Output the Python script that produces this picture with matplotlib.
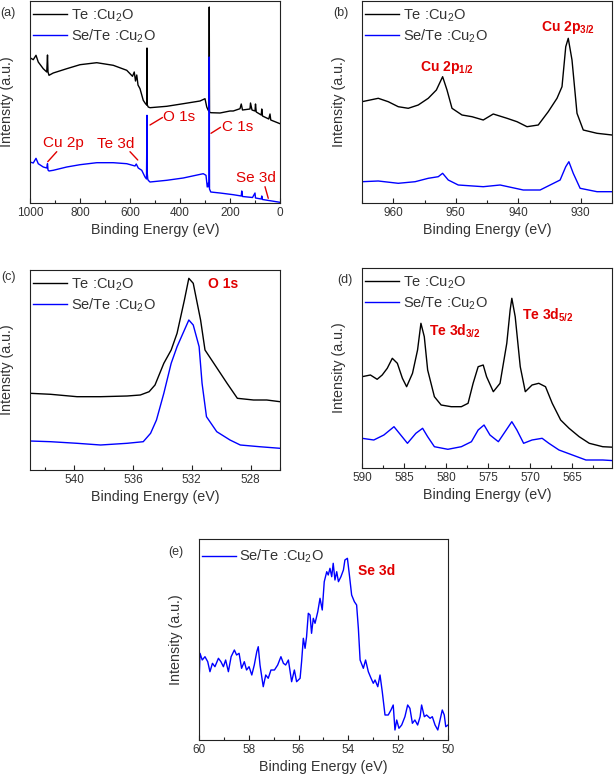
import matplotlib
matplotlib.use("Agg")
import matplotlib.pyplot as plt
from matplotlib.ticker import MultipleLocator

plt.rcParams['font.family'] = ['Liberation Sans', 'DejaVu Sans']
plt.rcParams['mathtext.fontset'] = 'custom'
plt.rcParams['mathtext.rm'] = 'Liberation Sans'
plt.rcParams['mathtext.it'] = 'Liberation Sans:italic'
plt.rcParams['mathtext.bf'] = 'Liberation Sans:bold'

# ---------------- data ----------------
series_labels = [r'Te :Cu$\mathregular{_2}$O', r'Se/Te :Cu$\mathregular{_2}$O']

# (a) survey
a_E_te = [1000, 987, 976, 967, 947, 933, 930, 928, 924, 907,
          853, 800, 733, 667, 613, 590, 583, 578, 573, 568,
          560, 547, 538, 533, 532, 531, 527, 520, 453, 387,
          320, 300, 293, 287, 284, 283, 282, 277, 240, 200,
          187, 160, 155, 150, 120, 118, 112, 100, 98, 95,
          75, 73, 70, 45, 40, 37, 0]
a_I_te = [145.3, 143.3, 147.7, 141, 134.3, 131, 148, 131, 127.7, 130,
          134.3, 138.3, 140.3, 137.7, 132.7, 126.7, 131, 122, 128, 118,
          114.3, 102.7, 99.3, 98, 155, 98, 96, 95.3, 96.7, 99.3,
          102, 104.3, 96, 92.7, 92, 196, 91, 90.3, 90, 92,
          92, 94.3, 99, 93, 94, 100, 93, 92, 99, 91,
          88, 94, 87, 84, 89, 83, 79.3]
a_E_se = [1000, 987, 976, 967, 947, 933, 930, 928, 924, 907,
          853, 800, 733, 667, 613, 590, 580, 575, 567, 553,
          540, 534, 532, 531, 529, 527, 520, 453, 387, 307,
          296, 291, 287, 284, 283, 282, 277, 240, 187, 155,
          153, 150, 110, 100, 98, 75, 73, 70, 0]
a_I_se = [41, 40, 44.7, 39.3, 36, 35, 39.3, 33, 32, 32.7,
          36, 38.3, 40.3, 40.3, 39.3, 37.7, 37, 39, 35, 32.7,
          26, 24, 87.7, 30, 24, 22.7, 21, 22.7, 25, 29.3,
          27.7, 16, 20, 16, 146, 14, 11, 10, 8.3, 7,
          12, 6.5, 5.5, 10, 5, 4, 7, 3.5, 0.7]

# (b) Cu 2p
b_E_te = [965, 962.4, 960.8, 959.2, 957.6, 956, 954.4, 953.1, 952.1, 951.4,
          950.6, 949, 947.4, 945.6, 944, 941.8, 940.2, 938.6, 936.8, 935.2,
          933.8, 933, 932.4, 932, 931.4, 930.6, 929.6, 927.4, 925]
b_I_te = [101.3, 104.7, 101.3, 96.3, 94.7, 98, 104.7, 113, 126.3, 113,
          94.7, 88, 86.3, 83, 89, 84.7, 81.3, 76.3, 78, 91.3,
          104.7, 116.3, 156.3, 164.7, 143, 89.7, 73, 69.7, 68]
b_E_se = [965, 962.4, 959.2, 956.5, 954.4, 952.8, 952.1, 951.2, 949.6, 945.6,
          942.9, 939.2, 936.5, 934.9, 933.3, 932.4, 931.9, 931.2, 930.1, 927.4, 925]
b_I_se = [21.3, 22, 19.7, 21.3, 24.7, 26.3, 29.7, 23, 18, 16.3,
          18, 13, 13, 18, 23, 36.3, 41.3, 29.7, 14.7, 11.3, 11.3]

# (c) O 1s
c_E_te = [543, 541.6, 539.8, 538.2, 536.4, 535.5, 534.9, 534.5, 533.9, 533.4,
          533, 532.5, 532.2, 531.9, 531.4, 531.1, 530.5, 529.6, 528.9, 527.8,
          526.9, 526]
c_I_te = [76.7, 75.7, 73.3, 73.3, 74, 75, 78.3, 85, 106.7, 120,
          136.7, 170, 191.7, 186.7, 150, 120, 106.7, 86.7, 71.7, 70,
          70, 68.3]
c_E_se = [543, 541.6, 539.8, 538.2, 536.4, 535.3, 534.8, 534.4, 533.9, 533.4,
          533, 532.4, 532.2, 531.9, 531.5, 531.3, 531, 530.3, 529.4, 528.7,
          527.4, 526]
c_I_se = [29, 28.3, 26.7, 25, 26.7, 28.3, 36.7, 50, 76.7, 106.7,
          123.3, 143.3, 150, 145, 123.3, 86.7, 53.3, 38.3, 30, 25,
          23.3, 21.7]

# (d) Te 3d
d_E_te = [590, 589.0, 588.2, 587.6, 587.0, 586.4, 585.8, 585.2, 584.7, 584.0,
          583.4, 583.0, 582.6, 582.2, 581.4, 580.6, 579.4, 578.2, 577.4, 576.8,
          576.2, 575.6, 575.2, 574.4, 573.6, 572.8, 572.4, 572.2, 571.8, 571.2,
          570.6, 569.8, 569.0, 568.2, 567.4, 566.4, 565.4, 564.2, 563.0, 561.4,
          560.0]
d_I_te = [91.3, 93, 88.7, 93, 99.7, 109.7, 104.7, 89.7, 81.3, 94.7,
          118, 144.7, 131.3, 98, 71.3, 63, 61.3, 61.3, 64.7, 84.7,
          101.3, 103, 91.3, 76.3, 84.7, 124.7, 158, 169.7, 151.3, 101.3,
          76.3, 83, 84.7, 81.3, 64.7, 48, 39.7, 31.3, 24.7, 21.3,
          20.7]
d_E_se = [590, 588.6, 587.4, 586.2, 585.4, 584.6, 583.6, 582.8, 582.2, 581.4,
          579.8, 578.2, 577.0, 576.2, 575.5, 574.8, 573.8, 573.0, 572.2, 571.6,
          570.8, 569.8, 568.6, 567.8, 566.6, 565.0, 563.4, 561.4, 560.0]
d_I_se = [29.7, 28, 33, 41.3, 33, 24.7, 34.7, 39.7, 31.3, 21.3,
          18.7, 21.3, 26.3, 38, 43, 33, 26.3, 36.3, 46.3, 38,
          24.7, 28, 29.7, 24.7, 18, 13, 8, 8, 7.3]

# (e) Se 3d
e_E_se = [60.00, 59.96, 59.87, 59.76, 59.65, 59.56, 59.46, 59.36, 59.22, 59.12,
          59.02, 58.93, 58.82, 58.71, 58.58, 58.49, 58.39, 58.29, 58.18, 58.09,
          57.99, 57.88, 57.78, 57.68, 57.62, 57.55, 57.42, 57.32, 57.22, 57.11,
          56.97, 56.84, 56.71, 56.61, 56.52, 56.41, 56.28, 56.17, 56.08, 55.94,
          55.88, 55.81, 55.74, 55.68, 55.61, 55.54, 55.48, 55.41, 55.34, 55.23,
          55.14, 55.05, 54.97, 54.87, 54.81, 54.74, 54.67, 54.61, 54.54, 54.47,
          54.40, 54.30, 54.20, 54.14, 54.04, 53.96, 53.87, 53.76, 53.67, 53.60,
          53.53, 53.40, 53.31, 53.20, 53.09, 53.00, 52.93, 52.82, 52.73, 52.64,
          52.53, 52.40, 52.29, 52.20, 52.13, 52.06, 51.97, 51.86, 51.73, 51.62,
          51.53, 51.43, 51.33, 51.22, 51.12, 51.06, 50.95, 50.86, 50.72, 50.63,
          50.52, 50.41, 50.32, 50.23, 50.15, 50.09, 50.00]
e_I_se = [55.0, 86.7, 80.0, 83.3, 78.3, 68.3, 76.7, 73.3, 81.7, 78.3,
          73.3, 80.0, 68.3, 83.3, 90.0, 85.0, 86.7, 71.7, 78.3, 70.0,
          73.3, 65.0, 75.0, 88.3, 93.3, 75.0, 53.3, 65.0, 61.7, 70.0,
          70.0, 75.0, 83.3, 76.7, 75.0, 80.0, 58.3, 70.0, 58.3, 61.7,
          78.3, 101.7, 91.7, 103.3, 126.7, 125.0, 106.7, 121.7, 116.7, 128.3,
          141.7, 130.0, 158.3, 168.3, 165.0, 171.7, 163.3, 176.7, 160.0, 168.3,
          158.3, 163.3, 170.0, 180.0, 181.7, 165.0, 145.0, 138.3, 135.0, 111.7,
          80.0, 71.7, 80.0, 68.3, 61.7, 56.7, 60.0, 53.3, 65.0, 48.3,
          25.0, 25.0, 30.0, 35.0, 10.0, 20.0, 11.7, 15.0, 23.3, 35.0,
          31.7, 16.7, 20.0, 15.0, 23.3, 35.0, 23.3, 25.0, 21.7, 23.3,
          15.0, 10.0, 20.0, 30.0, 25.0, 13.3, 15.0]

# ---------------- layout ----------------
W, H = 614, 775
BLACK = '#000000'
BLUE = '#0000ff'
RED = '#e00000'
GRAY = '#333333'
LW = 1.0
LEG_FS = 10.5

fig = plt.figure(figsize=(W / 100, H / 100), dpi=100)


def rect(l, t, r, b):
    return [l / W, 1 - b / H, (r - l) / W, (b - t) / H]


def ftext(x, y, s, **kw):
    fig.text(x / W, 1 - y / H, s, **kw)


def style(ax, xlim, ylim, major, minor):
    ax.set_xlim(*xlim)
    ax.set_ylim(*ylim)
    ax.xaxis.set_major_locator(MultipleLocator(major))
    ax.xaxis.set_minor_locator(MultipleLocator(minor))
    ax.tick_params(axis='x', which='both', direction='in', top=False,
                   labelsize=8.5, labelcolor=GRAY, pad=3, color='#222222')
    ax.tick_params(axis='x', which='major', length=3.5, width=0.8)
    ax.tick_params(axis='x', which='minor', length=2, width=0.8)
    ax.tick_params(axis='y', which='both', left=False, labelleft=False)
    for s in ax.spines.values():
        s.set_linewidth(0.8)
        s.set_color('#222222')


def legend(ax, width_px, pad=0.45, start_px=3.0):
    pad_px = pad * LEG_FS * 100 / 72
    ax.legend(loc='upper left',
              bbox_to_anchor=((start_px - pad_px) / width_px, 1.0),
              frameon=False, fontsize=LEG_FS, handlelength=2.35,
              handletextpad=0.25, labelspacing=0.22, borderaxespad=0.0,
              borderpad=pad)
    leg = ax.get_legend()
    for t in leg.get_texts():
        t.set_color(GRAY)


axes_px = {
    'a': (30, 1, 280, 203),
    'b': (362, 1, 612, 203),
    'c': (30, 270, 280, 470),
    'd': (362, 268, 612, 468),
    'e': (199, 539, 448, 740),
}

# (a)
ax = fig.add_axes(rect(*axes_px['a']))
ax.plot(a_E_te, a_I_te, color=BLACK, lw=LW, label=series_labels[0])
ax.plot(a_E_se, a_I_se, color=BLUE, lw=LW, label=series_labels[1])
style(ax, (1000, 0), (0, 202), 200, 100)
legend(ax, 250)
ann = [('O 1s', (520, 78), (470, 85.5), (468, 86)),
       ('C 1s', (276, 69.7), (238, 75.7), (233, 76)),
       ('Cu 2p', (929, 41.3), (893, 51.3), (947, 60.5)),
       ('Te 3d', (600, 51.3), (569, 43), (733, 59.5)),
       ('Se 3d', (60, 16.3), (47, 4.7), (176, 25.5))]
for s, p1, p2, tp in ann:
    ax.annotate('', xy=p2, xytext=p1,
                arrowprops=dict(arrowstyle='-', color=RED, lw=1.0,
                                shrinkA=0, shrinkB=0))
    ax.text(tp[0], tp[1], s, color=RED, fontsize=11, ha='left', va='center')

# (b)
ax = fig.add_axes(rect(*axes_px['b']))
ax.plot(b_E_te, b_I_te, color=BLACK, lw=LW, label=series_labels[0])
ax.plot(b_E_se, b_I_se, color=BLUE, lw=LW, label=series_labels[1])
style(ax, (965, 925), (0, 202), 10, 5)
legend(ax, 250)
ax.text(955.7, 132, r'Cu 2p$\mathregular{_{1/2}}$', color=RED, fontsize=10,
        fontweight='bold', ha='left', va='baseline')
ax.text(936.4, 172, r'Cu 2p$\mathregular{_{3/2}}$', color=RED, fontsize=10,
        fontweight='bold', ha='left', va='baseline')

# (c)
ax = fig.add_axes(rect(*axes_px['c']))
ax.plot(c_E_te, c_I_te, color=BLACK, lw=LW, label=series_labels[0])
ax.plot(c_E_se, c_I_se, color=BLUE, lw=LW, label=series_labels[1])
style(ax, (543, 526), (0, 200), 4, 2)
legend(ax, 250)
ax.text(530.9, 182, 'O 1s', color=RED, fontsize=10, fontweight='bold',
        ha='left', va='baseline')

# (d)
ax = fig.add_axes(rect(*axes_px['d']))
ax.plot(d_E_te, d_I_te, color=BLACK, lw=LW, label=series_labels[0])
ax.plot(d_E_se, d_I_se, color=BLUE, lw=LW, label=series_labels[1])
style(ax, (590, 560.3), (0, 200), 5, 2.5)
legend(ax, 250)
ax.text(582.0, 132, r'Te 3d$\mathregular{_{3/2}}$', color=RED, fontsize=10,
        fontweight='bold', ha='left', va='baseline')
ax.text(571.0, 148.7, r'Te 3d$\mathregular{_{5/2}}$', color=RED, fontsize=10,
        fontweight='bold', ha='left', va='baseline')

# (e)
ax = fig.add_axes(rect(*axes_px['e']))
ax.plot(e_E_se, e_I_se, color=BLUE, lw=LW, label=series_labels[1])
style(ax, (60, 50), (0, 201), 2, 1)
legend(ax, 249, pad=0.6, start_px=2.5)
ax.text(53.6, 165, 'Se 3d', color=RED, fontsize=10, fontweight='bold',
        ha='left', va='baseline')

# axis labels and panel letters
xl = dict(fontsize=10.3, color=GRAY, ha='center', va='center')
yl = dict(fontsize=10.3, color=GRAY, ha='center', va='center', rotation=90)
for key in 'abcde':
    l, t, r, b = axes_px[key]
    ftext((l + r) / 2, b + 27, 'Binding Energy (eV)', **xl)
    ftext(l - 23, (t + b) / 2, 'Intensity (a.u.)', **yl)

ftext(8, 13, '(a)', fontsize=9, color=GRAY, ha='center', va='center')
ftext(341, 13, '(b)', fontsize=9, color=GRAY, ha='center', va='center')
ftext(8, 277, '(c)', fontsize=9, color=GRAY, ha='center', va='center')
ftext(345, 280, '(d)', fontsize=9, color=GRAY, ha='center', va='center')
ftext(176, 552, '(e)', fontsize=9, color=GRAY, ha='center', va='center')

fig.savefig('out.png', dpi=100, facecolor='white')
